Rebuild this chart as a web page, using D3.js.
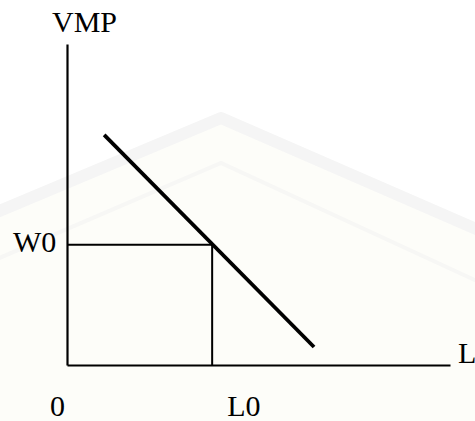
<!DOCTYPE html>
<html>
<head>
<meta charset="utf-8">
<script src="https://cdn.jsdelivr.net/npm/d3@7"></script>
<style>
  html, body { margin: 0; padding: 0; background: #fff; }
  svg { display: block; }
</style>
</head>
<body>
<svg id="chart" width="475" height="421"></svg>
<script>
// ---- data ----
const axisLabels = { y: "VMP", x: "L", origin: "0" };
const demandL   = [9.7, 64.5];   // labour quantity at the two ends of the VMP line
const demandVMP = [71.7, 5.6];   // value of marginal product at those ends
const L0 = 37.9;                  // equilibrium labour
const W0 = 37.5;                  // equilibrium wage
const tickLabels = ["W0", "L0"];
const xMax = 100, yMax = 100;

const svg = d3.select("#chart");
const W = 475, H = 421;
svg.append("rect").attr("width", W).attr("height", H).attr("fill", "#fff");

// ---- very faint watermark shield ----
const wm = svg.append("g").attr("class", "watermark");
wm.append("path")
  .attr("d", "M-10,215 L221,118 L490,235 L490,430 L-10,430 Z")
  .attr("fill", "#fdfdf9").attr("stroke", "#f5f5f5").attr("stroke-width", 12)
  .attr("stroke-linejoin", "round");
wm.append("path")
  .attr("d", "M-10,262 L221,163 L490,287")
  .attr("fill", "none").attr("stroke", "#f7f7f5").attr("stroke-width", 4);

// ---- scales ----
const x = d3.scaleLinear().domain([0, xMax]).range([67, 450]);
const y = d3.scaleLinear().domain([0, yMax]).range([365, 44]);

const g = svg.append("g");

// axes (plain lines, no ticks)
const xAxis = d3.axisBottom(x).tickValues([]).tickSize(0);
const yAxis = d3.axisLeft(y).tickValues([]).tickSize(0);
g.append("g").attr("transform", `translate(0,${y(0)})`).call(xAxis)
  .call(s => s.select(".domain").attr("stroke", "#000").attr("stroke-width", 2.2));
g.append("g").attr("transform", `translate(${x(0)},0)`).call(yAxis)
  .call(s => s.select(".domain").attr("stroke", "#000").attr("stroke-width", 2.2));

// W0 / L0 guide lines
const guide = d3.line().x(d => x(d[0])).y(d => y(d[1]));
g.append("path")
  .attr("d", guide([[0, W0], [L0, W0], [L0, 0]]))
  .attr("fill", "none").attr("stroke", "#000").attr("stroke-width", 2);

// VMP (demand) line
const demand = demandL.map((l, i) => [l, demandVMP[i]]);
g.append("path")
  .attr("d", guide(demand))
  .attr("fill", "none").attr("stroke", "#000").attr("stroke-width", 3.8);

// labels
const font = "Liberation Serif, Times New Roman, serif";
const lab = (t, px, py, anchor) => g.append("text")
  .attr("x", px).attr("y", py).attr("text-anchor", anchor || "start")
  .style("font-family", font).attr("font-size", 30).attr("fill", "#000").text(t);

lab(axisLabels.y, x(0) - 15, 32);
lab(axisLabels.x, x(xMax) + 8, y(0) - 2);
lab(tickLabels[0], x(0) - 54, y(W0) + 7);
lab(tickLabels[1], x(L0) + 15, 416);
lab(axisLabels.origin, x(0) - 17, 416);
</script>
</body>
</html>
